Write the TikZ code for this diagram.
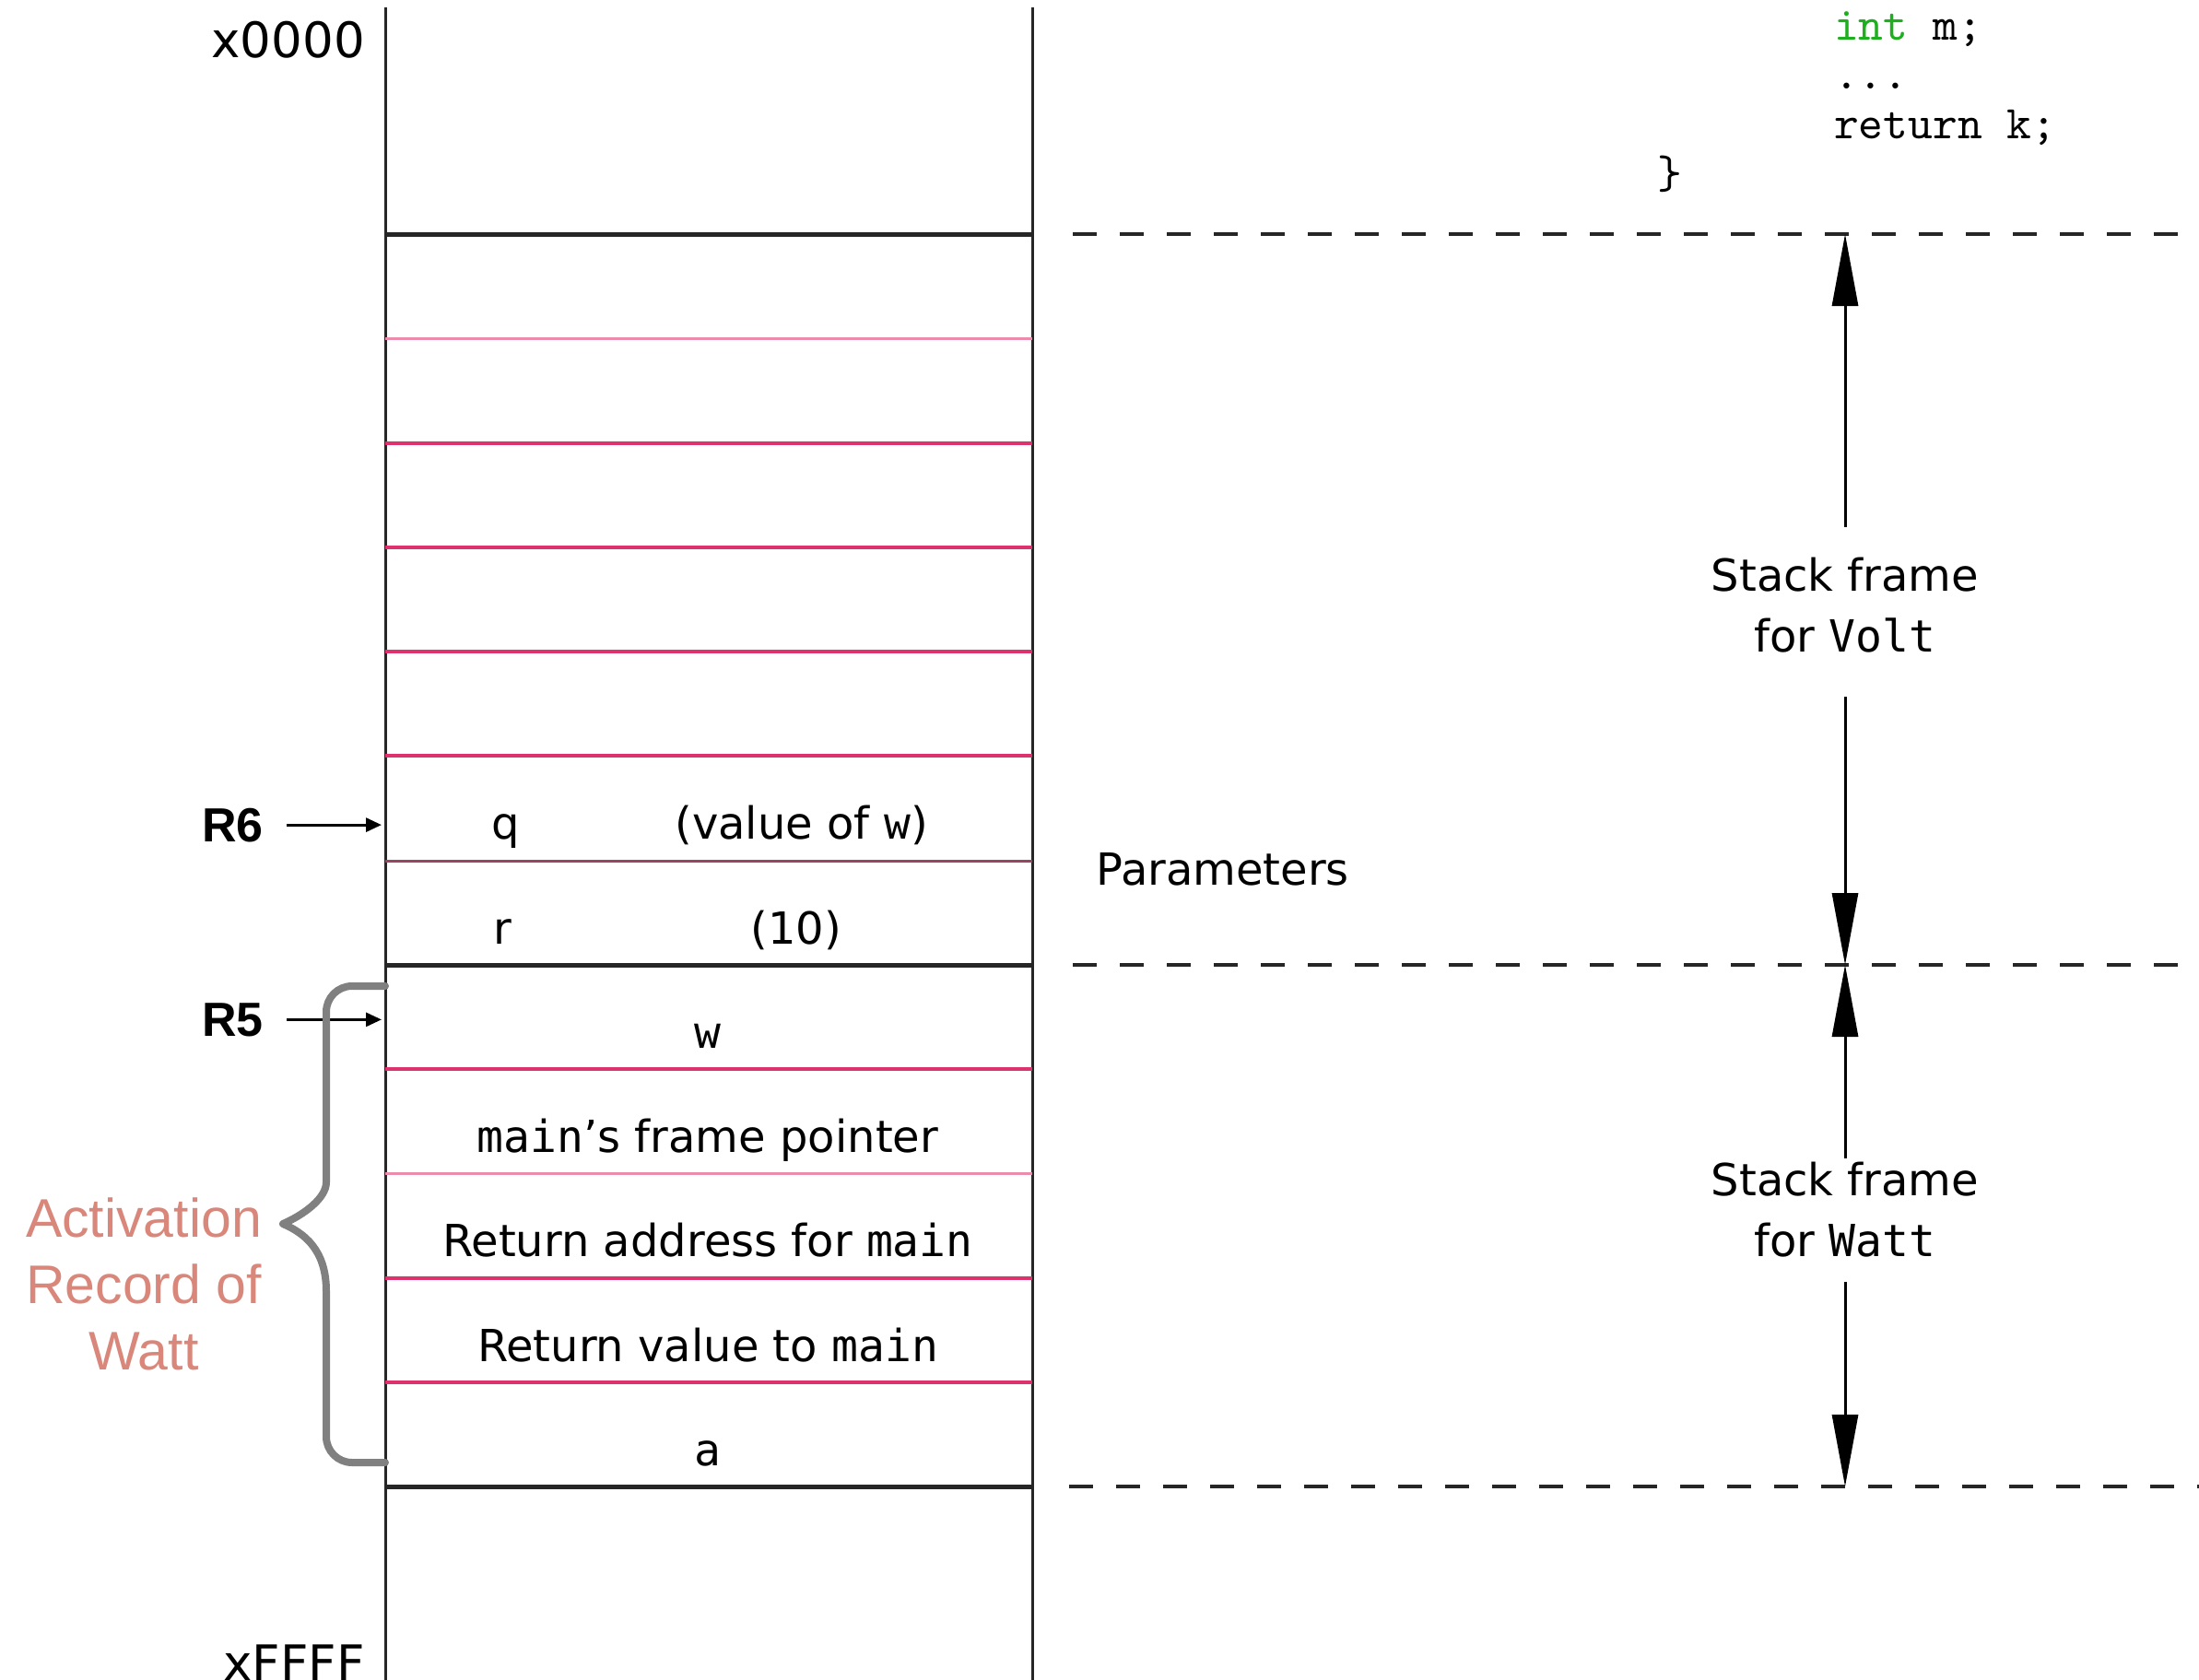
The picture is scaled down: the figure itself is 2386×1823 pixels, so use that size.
\documentclass[tikz,border=0pt]{standalone}
\usepackage{fontspec}
\setmainfont{DejaVu Sans}
\setmonofont{DejaVu Sans Mono}
\newfontfamily\arialfont{Liberation Sans}
\newfontfamily\codefont{lmmono10-regular}[Extension=.otf]
\usetikzlibrary{arrows.meta, positioning}
\definecolor{rosa}{RGB}{222,50,110}
\definecolor{rosaclaro}{RGB}{236,140,172}
\definecolor{rosaoscuro}{RGB}{150,70,95}
\definecolor{salmon}{RGB}{217,135,122}
\definecolor{gris}{RGB}{128,128,128}
\definecolor{verdecodigo}{RGB}{30,175,30}

\begin{document}
\begin{tikzpicture}[x=1pt, y=-1pt,
  texto/.style={font=\fontsize{48}{58}\selectfont, inner sep=0pt},
  celda/.style={texto, anchor=base},
  direccion/.style={font=\fontsize{53}{60}\selectfont, inner sep=0pt},
  registro/.style={font=\arialfont\bfseries\fontsize{52}{60}\selectfont,
                   inner sep=0pt, anchor=base west},
  marco/.style={align=center, inner xsep=0pt, anchor=north,
                font=\fontsize{48}{66}\selectfont},
  codigo/.style={font=\codefont\fontsize{51}{60}\selectfont, inner sep=0pt,
                 anchor=base west},
  pared/.style={line width=3pt, black!85},
  lnegra/.style={line width=5pt, black!85},
  lrosa/.style={line width=4pt, rosa},
  lrosac/.style={line width=3pt, rosaclaro},
  lgris/.style={line width=3pt, rosaoscuro},
  guiones/.style={line width=4.5pt, black!85, dash pattern=on 26pt off 25pt},
  flecha/.style={line width=3pt, -{Triangle[length=17pt,width=15pt]}},
  cota/.style={line width=3pt, -{Triangle[length=78pt,width=28pt]}},
  llave/.style={line width=8pt, gris, line cap=round, line join=round}
]
\useasboundingbox (0,0) rectangle (2386,1823);

% memory column
\draw[pared] (418,8) -- (418,1823);
\draw[pared] (1120,8) -- (1120,1823);
\foreach \y/\estilo in {254/lnegra, 367/lrosac, 481/lrosa, 594/lrosa, 707/lrosa,
                        820/lrosa, 934/lgris, 1047/lnegra, 1160/lrosa,
                        1273/lrosac, 1387/lrosa, 1500/lrosa, 1613/lnegra}
  \draw[\estilo] (418,\y) -- (1120,\y);

\node[direccion, anchor=base east] (ini) at (396,62) {x0000};
\node[direccion, anchor=north east] (fin) at (396,1785) {xFFFF};

% cells
\node[texto, anchor=base west] (q) at (533,910) {q};
\node[celda] (qval) at (870,910) {(value of \texttt{w})};
\node[texto, anchor=base west] (r) at (535,1024) {r};
\node[celda] (rval) at (864,1024) {(10)};
\node[celda] (w) at (768,1137) {\texttt{w}};
\node[celda] (fp) at (768,1250) {\texttt{main}’s frame pointer};
\node[celda] (ra) at (768,1363) {Return address for \texttt{main}};
\node[celda] (rv) at (768,1477) {Return value to \texttt{main}};
\node[celda] (a) at (768,1590) {\texttt{a}};

% frame and stack pointers
\coordinate (muro) at (414,0);
\node[registro] (r6) at (219,913) {R6};
\node[registro] (r5) at (219,1124) {R5};
\draw[flecha] ([xshift=25pt]r6.east) -- (r6.east -| muro);
\draw[flecha] ([xshift=25pt]r5.east) -- (r5.east -| muro);

\draw[llave] (418,1070) [rounded corners=28pt] -- (354,1070) -- (354,1255)
  [sharp corners] .. controls (354,1300) and (330,1318) .. (307,1328)
  .. controls (330,1338) and (354,1356) .. (354,1401)
  [rounded corners=28pt] -- (354,1587) -- (418,1587);
\node[font=\arialfont\fontsize{59}{72}\selectfont, text=salmon, align=center,
      anchor=north, inner sep=0pt] (activacion) at (156,1300)
      {Activation\\Record of\\Watt};

\node[texto, anchor=base west] (param) at (1189,960) {Parameters};

% frame boundaries
\draw[guiones] (1164,254) -- (2386,254);
\draw[guiones] (1164,1047) -- (2386,1047);
\draw[guiones] (1160,1613) -- (2386,1613);
\coordinate (vtop) at (2002,254);
\coordinate (vmid) at (2002,1047);
\coordinate (vbot) at (2002,1613);

\node[marco, inner ysep=33pt, text depth=15pt] (volt) at (2002,572)
  {Stack frame\\for \texttt{Volt}};
\node[marco, inner ysep=4pt, text depth=23pt] (watt) at (2002,1257)
  {Stack frame\\for \texttt{Watt}};
\draw[cota] (volt.north) -- (vtop);
\draw[cota] (volt.south) -- (vmid);
\draw[cota] (watt.north) -- (vmid);
\draw[cota] (watt.south) -- (vbot);

% code fragment
\node[codigo] (c1) at (1990,43) {\textcolor{verdecodigo}{int} m;};
\node[codigo] (c2) at (1990,96) {...};
\node[codigo] (c3) at (1990,150) {return k;};
\node[codigo] (c4) at (1798,204) {\}};
\end{tikzpicture}
\end{document}
